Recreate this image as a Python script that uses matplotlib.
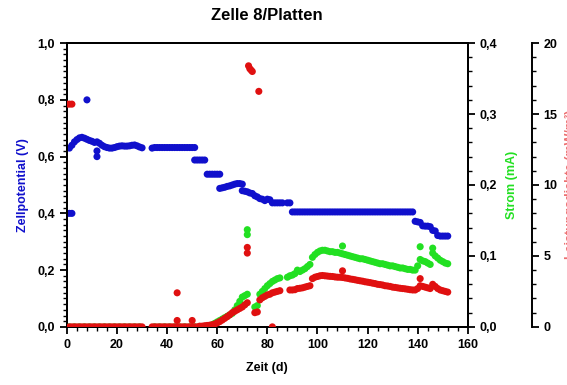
import matplotlib
matplotlib.use("Agg")
import matplotlib.pyplot as plt
from matplotlib.ticker import MultipleLocator, FuncFormatter

plt.rcParams['font.family'] = ['Liberation Sans', 'DejaVu Sans']
plt.rcParams['font.weight'] = 'bold'

# ---------------- data ----------------
# Zellpotential (V), left axis
blue_day = [0, 1, 2,
            1, 2, 3, 4, 5, 6, 7, 8, 9, 10, 11, 12, 12, 12, 13, 14, 15, 16, 17, 18, 19, 20,
            21, 22, 23, 24, 25, 26, 27, 28, 29, 30,
            8,
            34, 35, 36, 37, 38, 39, 40, 41, 42, 43, 44, 45, 46, 47, 48, 49, 50, 51,
            51, 52, 53, 54, 55,
            56, 57, 58, 59, 60, 61,
            61, 62, 63, 64, 65, 66,
            67, 68, 69, 70,
            70, 71, 72, 73, 74, 75, 76,
            77, 78, 79, 80, 81,
            82, 83, 84, 85, 86,
            88, 89,
            90, 91, 92, 93, 94, 95, 96, 97, 98, 99, 100, 101, 102, 103, 104, 105, 106, 107,
            108, 109, 110, 111, 112, 113, 114, 115, 116, 117, 118, 119, 120, 121, 122, 123,
            124, 125, 126, 127, 128, 129, 130, 131, 132, 133, 134, 135, 136, 137, 138,
            139, 140, 141,
            142, 143, 144, 145,
            146, 147,
            148, 149, 150, 151, 152]
blue_v = [0.40, 0.40, 0.40,
          0.63, 0.64, 0.652, 0.660, 0.666, 0.668, 0.665, 0.661, 0.657, 0.654, 0.650, 0.652, 0.62, 0.60,
          0.647, 0.640, 0.635, 0.632, 0.630, 0.630, 0.632, 0.635, 0.637, 0.638, 0.637, 0.637, 0.638,
          0.640, 0.641, 0.638, 0.634, 0.631,
          0.800,
          0.630, 0.632, 0.632, 0.632, 0.632, 0.632, 0.632, 0.632, 0.632, 0.632, 0.632, 0.632, 0.632,
          0.632, 0.632, 0.632, 0.632, 0.632,
          0.588, 0.588, 0.588, 0.588, 0.588,
          0.538, 0.538, 0.538, 0.538, 0.538, 0.538,
          0.488, 0.490, 0.492, 0.495, 0.497, 0.500,
          0.503, 0.505, 0.505, 0.503,
          0.480, 0.478, 0.476, 0.472, 0.470, 0.462, 0.458,
          0.452, 0.450, 0.445, 0.450, 0.448,
          0.437, 0.437, 0.437, 0.437, 0.437,
          0.437, 0.437,
          0.405, 0.405, 0.405, 0.405, 0.405, 0.405, 0.405, 0.405, 0.405, 0.405, 0.405, 0.405,
          0.405, 0.405, 0.405, 0.405, 0.405, 0.405, 0.405, 0.405, 0.405, 0.405, 0.405, 0.405,
          0.405, 0.405, 0.405, 0.405, 0.405, 0.405, 0.405, 0.405, 0.405, 0.405, 0.405, 0.405,
          0.405, 0.405, 0.405, 0.405, 0.405, 0.405, 0.405, 0.405, 0.405, 0.405, 0.405, 0.405,
          0.405,
          0.372, 0.370, 0.368,
          0.356, 0.355, 0.355, 0.353,
          0.340, 0.338,
          0.322, 0.320, 0.320, 0.320, 0.320]

# Strom (mA), right axis
green_day = [1, 3, 5, 7, 9, 11, 13, 15, 17, 19, 21, 23, 25, 27, 29,
             35, 37, 39, 41, 43, 45, 47, 49, 51, 53, 55, 57,
             58, 59, 60, 61, 62, 63, 64, 65, 66, 67, 68, 69, 70, 71, 72, 72, 72,
             75, 76, 77, 78, 79, 80, 81, 82, 83, 84, 85,
             88, 89, 90, 91, 92, 93, 94, 95, 96, 97,
             98, 99, 100, 101, 102, 103, 104, 105, 106, 107, 108, 109, 110, 110,
             111, 112, 113, 114, 115, 116, 117, 118, 119, 120, 121, 122, 123, 124,
             125, 126, 127, 128, 129, 130, 131, 132, 133, 134, 135, 136, 137, 138,
             139, 140, 141, 141, 142, 143, 144, 145, 146, 146, 147, 148, 149, 150, 151, 152]
green_ma = [0.0, 0.0, 0.0, 0.0, 0.0, 0.0, 0.0, 0.0, 0.0, 0.0, 0.0, 0.0, 0.0, 0.0, 0.0,
            0.0, 0.0, 0.0, 0.0, 0.0, 0.0, 0.0, 0.0, 0.0, 0.0, 0.0, 0.0,
            0.003, 0.005, 0.007, 0.009, 0.011, 0.013, 0.015, 0.017, 0.019, 0.024, 0.030, 0.036,
            0.042, 0.044, 0.046, 0.130, 0.137,
            0.028, 0.030, 0.046, 0.050, 0.054, 0.058, 0.061, 0.064, 0.066, 0.068, 0.069,
            0.070, 0.072, 0.073, 0.075, 0.080, 0.078, 0.080, 0.082, 0.085, 0.088,
            0.098, 0.102, 0.105, 0.107, 0.108, 0.108, 0.107, 0.106, 0.106, 0.105, 0.105, 0.104,
            0.103, 0.114,
            0.102, 0.101, 0.100, 0.099, 0.098, 0.097, 0.096, 0.096, 0.095, 0.094, 0.093, 0.092,
            0.091, 0.090, 0.089, 0.089, 0.088, 0.087, 0.086, 0.086, 0.085, 0.084, 0.083, 0.083,
            0.082, 0.081, 0.081, 0.080,
            0.080, 0.086, 0.113, 0.095, 0.093, 0.092, 0.090, 0.088, 0.111, 0.104, 0.100, 0.097,
            0.094, 0.092, 0.090, 0.089]

# third axis (0-20), red
red_day = [0, 1, 2,
           1, 2, 3, 4, 5, 6, 7, 8, 9, 10, 11, 12, 13, 14, 15, 16, 17, 18, 19, 20,
           21, 22, 23, 24, 25, 26, 27, 28, 29, 30,
           34, 35, 36, 37, 38, 39, 40, 41, 42, 43, 44, 45, 46, 47, 48, 49, 50, 51,
           52, 53, 54, 55, 56, 57,
           44, 44, 50,
           58, 59, 60, 61, 62, 63, 64, 65, 66, 67, 68, 69, 70, 71, 72, 72, 72,
           72.5, 73, 73.5, 74, 76.6,
           75, 76, 77, 78, 79, 80, 81, 82, 83, 84, 85, 82,
           89, 90, 91, 92, 93, 94, 95, 96, 97,
           98, 99, 100, 101, 102, 103, 104, 105, 106, 107, 108, 109, 110, 110,
           111, 112, 113, 114, 115, 116, 117, 118, 119, 120, 121, 122, 123, 124,
           125, 126, 127, 128, 129, 130, 131, 132, 133, 134, 135, 136, 137, 138,
           139, 140, 141, 141, 142, 143, 144, 145, 146, 147, 148, 149, 150, 151, 152]
red_val = [15.7, 15.7, 15.7,
           0.0, 0.0, 0.0, 0.0, 0.0, 0.0, 0.0, 0.0, 0.0, 0.0, 0.0, 0.0, 0.0, 0.0, 0.0, 0.0, 0.0,
           0.0, 0.0, 0.0, 0.0, 0.0, 0.0, 0.0, 0.0, 0.0, 0.0, 0.0, 0.0, 0.0,
           0.0, 0.0, 0.0, 0.0, 0.0, 0.0, 0.0, 0.0, 0.0, 0.0, 0.0, 0.0, 0.0, 0.0, 0.0, 0.0, 0.0,
           0.0, 0.0, 0.05, 0.05, 0.08, 0.1, 0.12,
           0.45, 2.4, 0.45,
           0.15, 0.2, 0.28, 0.37, 0.48, 0.6, 0.72, 0.85, 1.0, 1.1, 1.2, 1.3, 1.4, 1.55, 1.7, 5.2, 5.6,
           18.4, 18.2, 18.1, 18.0, 16.6,
           1.0, 1.05, 1.9, 2.05, 2.15, 2.25, 2.3, 2.4, 2.45, 2.5, 2.55, 0.0,
           2.6, 2.6, 2.62, 2.7, 2.72, 2.75, 2.8, 2.85, 2.9,
           3.4, 3.5, 3.55, 3.6, 3.62, 3.6, 3.58, 3.56, 3.55, 3.52, 3.5, 3.5, 3.48, 3.95,
           3.45, 3.42, 3.38, 3.35, 3.32, 3.28, 3.25, 3.22, 3.18, 3.15, 3.12, 3.08, 3.05, 3.0,
           2.98, 2.95, 2.9, 2.88, 2.85, 2.8, 2.78, 2.75, 2.72, 2.7, 2.68, 2.65, 2.62, 2.6,
           2.6, 2.7, 3.4, 2.9, 2.85, 2.8, 2.75, 2.7, 3.0, 2.85, 2.7, 2.6, 2.55, 2.5, 2.45]

x_ticks = [0, 20, 40, 60, 80, 100, 120, 140, 160]

BLUE = '#1010CC'
GREEN = '#22E022'
RED = '#E01010'

fig = plt.figure(figsize=(5.67, 3.85), dpi=100)
ax = fig.add_axes([0.118, 0.151, 0.707, 0.737])
ax2 = ax.twinx()
ax3 = ax.twinx()
ax3.spines['right'].set_position(('axes', 1.16))
for s in ['left', 'top', 'bottom']:
    ax3.spines[s].set_visible(False)

ms = 26
ax.scatter(blue_day, blue_v, s=ms, color=BLUE, edgecolors='none', zorder=3)
ax2.scatter(green_day, green_ma, s=ms, color=GREEN, edgecolors='none', zorder=3)
ax3.scatter(red_day, red_val, s=ms, color=RED, edgecolors='none', zorder=3)

comma = FuncFormatter(lambda v, p: f"{v:.1f}".replace('.', ','))

ax.set_xlim(0, 160)
ax.set_ylim(0, 1.0)
ax.set_xticks(x_ticks)
ax.xaxis.set_minor_locator(MultipleLocator(4))
ax.yaxis.set_major_locator(MultipleLocator(0.2))
ax.yaxis.set_minor_locator(MultipleLocator(0.02))
ax.yaxis.set_major_formatter(comma)

ax2.set_ylim(0, 0.4)
ax2.yaxis.set_major_locator(MultipleLocator(0.1))
ax2.yaxis.set_minor_locator(MultipleLocator(0.02))
ax2.yaxis.set_major_formatter(comma)

ax3.set_ylim(0, 20)
ax3.yaxis.set_major_locator(MultipleLocator(5))
ax3.yaxis.set_minor_locator(MultipleLocator(1))

for a in (ax, ax2, ax3):
    for sp in a.spines.values():
        sp.set_linewidth(1.4)
    a.tick_params(which='major', length=5, width=1.3, labelsize=9, direction='out')
    a.tick_params(which='minor', length=3, width=1.0, direction='out')

ax.set_xlabel('Zeit (d)', fontsize=9, fontweight='bold', labelpad=8)
ax.set_ylabel('Zellpotential (V)', fontsize=9, fontweight='bold', color=BLUE, labelpad=6)
ax2.set_ylabel('Strom (mA)', fontsize=9, fontweight='bold', color=GREEN, labelpad=6)

# third-axis label: in the reference it sits almost entirely beyond the right edge
fig.text(0.997, 0.52, 'Leistungsdichte (mW/m²)', rotation=90, ha='left', va='center',
         fontsize=9, fontweight='bold', color=RED, alpha=0.6)

fig.text(0.47, 1 - 15 / 385, 'Zelle 8/Platten', ha='center', va='center',
         fontsize=12, fontweight='bold')

fig.savefig('out.png', dpi=100)
